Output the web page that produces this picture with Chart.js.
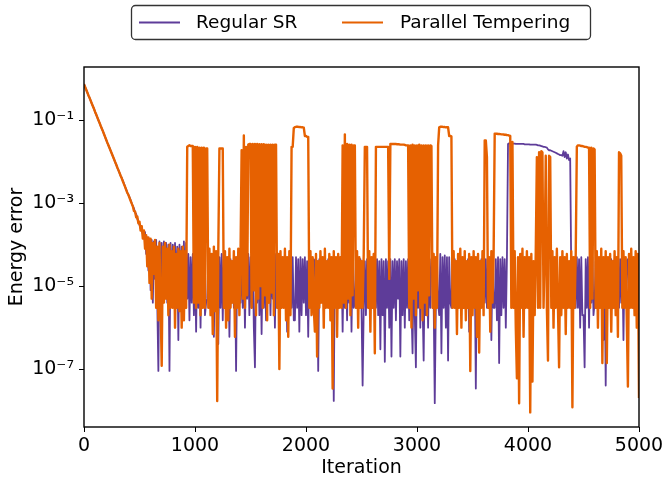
<!DOCTYPE html>
<html>
<head>
<meta charset="utf-8">
<script src="https://cdn.jsdelivr.net/npm/chart.js@4/dist/chart.umd.min.js"></script>
<style>
  html, body { margin: 0; padding: 0; background: #fff; }
  #wrap { width: 664px; height: 480px; }
</style>
</head>
<body>
<div id="wrap"><canvas id="errChart" width="664" height="480"></canvas></div>
<script>
// one sample every 10 iterations, 0..5000 (one row = 100 iterations)
const iterations = Array.from({ length: 501 }, (_, i) => i * 10);

const regularSR = [
  0.75, 0.64, 0.55, 0.47, 0.40, 0.35, 0.30, 0.255, 0.22, 0.19,
  0.16, 0.138, 0.118, 0.101, 0.087, 0.074, 0.064, 0.055, 0.047, 0.040,
  0.034, 0.029, 0.025, 0.0216, 0.0185, 0.0159, 0.0136, 0.0117, 0.0100, 0.0086,
  0.0073, 0.0063, 0.0054, 0.0046, 0.0041, 0.0035, 0.0030, 0.0025, 0.0022, 0.0018,
  0.0016, 0.0014, 0.0012, 0.0010, 8.5e-4, 7.5e-4, 6e-4, 5.5e-4, 4.2e-4, 3.6e-4,
  3e-4, 2.5e-4, 2.4e-4, 1.8e-4, 1.6e-4, 2e-4, 6e-5, 1.5e-4, 2.4e-5, 1.4e-4,
  8e-6, 1.3e-4, 4e-6, 1.2e-4, 1.5e-5, 1.3e-4, 4e-6, 9e-8, 1.2e-4, 5e-6,
  1.1e-4, 4e-6, 1.2e-4, 8e-6, 1.1e-4, 4e-6, 1e-4, 9e-8, 1.1e-4, 4e-6,
  1e-4, 4e-6, 1.1e-4, 6e-6, 9e-5, 5e-7, 1e-4, 4e-6, 9e-5, 6e-6,
  1.2e-4, 4e-6, 1.1e-4, 5e-6, 6e-5, 1.5e-6, 5e-5, 4e-6, 6e-5, 2e-6,
  5e-5, 8e-7, 6e-5, 3e-6, 5e-5, 1e-6, 7e-5, 5e-6, 6e-5, 2e-6,
  4e-6, 5e-6, 4e-5, 4e-6, 4.5e-5, 3e-6, 4e-5, 6e-7, 4.5e-5, 4e-6,
  4e-5, 4e-7, 5e-5, 3e-6, 6e-5, 1.5e-6, 4.5e-5, 4e-6, 4e-5, 4e-6,
  4e-5, 6e-7, 4.5e-5, 4e-6, 4e-5, 3e-6, 4.5e-5, 9e-8, 4e-5, 4e-6,
  4.5e-5, 4e-6, 6e-5, 3e-6, 5e-5, 1e-6, 4.5e-5, 5e-6, 6e-5, 2e-6,
  5e-5, 3e-6, 6e-5, 1e-6, 1.1e-7, 5e-5, 4e-6, 6e-5, 2e-6, 5e-5,
  7e-7, 6e-5, 3e-6, 5e-5, 1.5e-6, 6e-5, 4e-6, 5e-5, 2e-6, 6e-5,
  5e-6, 5e-5, 1e-6, 6e-5, 4.5e-5, 4e-6, 4e-5, 3.5e-6, 4.5e-5, 4e-6,
  4e-5, 4e-6, 4.5e-5, 8e-7, 4e-5, 4e-6, 4.5e-5, 3e-6, 5e-5, 1.5e-6,
  1.5e-6, 5e-5, 3e-6, 4.5e-5, 8e-7, 5e-5, 2e-6, 4.5e-5, 4e-6, 5e-5,
  2e-6, 4e-5, 6e-7, 4.5e-5, 4e-6, 4e-5, 3.5e-6, 4.5e-5, 4e-5, 4e-6,
  4e-5, 9e-8, 4.5e-5, 4e-6, 4e-5, 5e-6, 4.5e-5, 3e-6, 4e-5, 4e-6,
  4.5e-5, 4e-6, 4e-5, 4e-6, 4.5e-5, 1.7e-8, 4e-5, 4e-6, 4.5e-5, 4e-6,
  4e-5, 4e-6, 4.5e-5, 8e-7, 5e-5, 3e-6, 6e-5, 1.5e-6, 5e-5, 4e-6,
  6e-5, 8e-7, 5e-5, 3e-6, 4e-6, 4.5e-5, 4e-6, 4e-5, 5e-6, 4.5e-5,
  3e-6, 4e-8, 3e-6, 4e-5, 2e-6, 4.5e-5, 4e-5, 3e-6, 4.5e-5, 4e-6,
  4.5e-5, 3e-6, 5e-5, 3e-6, 4.5e-5, 2e-6, 4e-5, 3e-7, 4.5e-5, 2e-6,
  4e-5, 1.5e-7, 4.5e-5, 3e-6, 4e-5, 1e-6, 4.5e-5, 2e-7, 4e-5, 3e-6,
  4.5e-5, 1.5e-6, 4e-5, 5e-6, 4.5e-5, 2e-7, 4e-5, 2e-6, 4.5e-5, 1e-6,
  4e-5, 3e-6, 4.5e-5, 1.5e-6, 5e-5, 3e-6, 2.4e-7, 5e-5, 2e-6, 1.1e-7,
  4.5e-5, 3e-6, 5e-5, 1e-6, 4.5e-5, 4e-6, 1.6e-7, 5e-5, 2e-6, 4.5e-5,
  1e-6, 5e-5, 3e-6, 4.5e-5, 4e-5, 4e-6, 1.5e-8, 4e-6, 4.5e-5, 4e-6,
  2e-6, 6e-5, 2.4e-7, 5e-5, 3e-6, 5.5e-5, 1e-6, 5e-5, 1.6e-7, 5e-5,
  4e-6, 3e-6, 4e-5, 4e-6, 4.5e-5, 3e-6, 4e-5, 4e-6, 4.5e-5, 4e-6,
  4e-5, 4e-6, 4.5e-5, 3e-6, 4e-5, 4e-6, 4.5e-5, 8e-7, 4e-5, 4e-6,
  4.5e-5, 4e-6, 4e-5, 3.4e-8, 4.5e-5, 4e-6, 4e-5, 3e-6, 4.5e-5, 4e-6,
  4e-5, 4e-6, 4.5e-5, 3e-6, 4e-5, 4e-6, 4.5e-5, 5e-7, 4e-5, 3e-6,
  3e-6, 4.5e-5, 1.5e-6, 5e-5, 1.4e-7, 4.5e-5, 2e-6, 5e-5, 3e-6, 4.5e-5,
  1e-6, 4.5e-5, 2.7e-2, 2.8e-2, 2.8e-2, 2.8e-2, 2.75e-2, 2.75e-2, 2.75e-2, 2.7e-2,
  2.7e-2, 2.7e-2, 2.7e-2, 2.7e-2, 2.7e-2, 2.7e-2, 2.7e-2, 2.65e-2, 2.65e-2, 2.65e-2,
  2.65e-2, 2.65e-2, 2.6e-2, 2.6e-2, 2.6e-2, 2.6e-2, 2.6e-2, 2.6e-2, 2.55e-2, 2.5e-2,
  2.5e-2, 2.45e-2, 2.4e-2, 2.35e-2, 2.3e-2, 2.3e-2, 2.25e-2, 2.2e-2, 2e-2, 1.9e-2,
  1.9e-2, 1.85e-2, 1.8e-2, 1.75e-2, 1.7e-2, 1.65e-2, 1.6e-2, 1.55e-2, 1.5e-2, 1.45e-2,
  1.45e-2, 1.4e-2, 1.8e-2, 1.3e-2, 1.7e-2, 1.2e-2, 1.5e-2, 1.1e-2, 1.2e-2, 2e-5,
  4e-5, 4e-6, 4.5e-5, 3e-6, 5e-5, 3e-6, 4.5e-5, 1e-6, 5e-5, 2e-6,
  2e-6, 1.1e-7, 4.5e-5, 3e-6, 5e-5, 1e-6, 4.5e-5, 4e-6, 5e-5, 2e-6,
  4e-6, 4e-5, 4e-6, 4.5e-5, 3e-6, 4e-5, 4e-6, 4.5e-5, 5e-7, 4e-5,
  4e-8, 4.5e-5, 4e-6, 4e-5, 3e-6, 4.5e-5, 4e-6, 4e-5, 3e-6, 4.5e-5,
  4e-6, 4e-5, 3e-6, 4.5e-5, 4e-6, 4e-5, 5e-7, 4.5e-5, 4e-6, 4e-5,
  4.5e-5, 3e-6, 4e-5, 4e-6, 4.5e-5, 3e-6, 4e-5, 4e-6, 4.5e-5, 3e-6,
  4e-5
];

const parallelTempering = [
  0.75, 0.64, 0.55, 0.47, 0.40, 0.35, 0.30, 0.255, 0.22, 0.19,
  0.16, 0.138, 0.118, 0.101, 0.087, 0.074, 0.064, 0.055, 0.047, 0.040,
  0.034, 0.029, 0.025, 0.0216, 0.0185, 0.0159, 0.0136, 0.0117, 0.0100, 0.0086,
  0.0073, 0.0063, 0.0054, 0.0046, 0.0040, 0.0034, 0.0029, 0.0025, 0.0021, 0.0018,
  0.0016, 0.00135, 0.00115, 9.8e-4, 8.5e-4, 6.5e-4, 6.3e-4, 4.6e-4, 4.8e-4, 3.3e-4,
  3.6e-4, 2.2e-4, 2.8e-4, 1.4e-4, 2.2e-4, 8e-5, 1.7e-4, 3e-5, 1.5e-4, 1.2e-5,
  1.4e-4, 5e-6, 1.1e-4, 2e-5, 1.3e-4, 3e-6, 9e-5, 1.5e-6, 1.1e-4, 4e-6,
  1.2e-7, 9e-5, 4e-6, 1.1e-4, 5e-6, 8e-5, 2e-6, 1e-4, 3e-6, 7e-5,
  3e-6, 9e-5, 1e-6, 6e-5, 3e-6, 8e-5, 2.5e-6, 7e-5, 1e-6, 9e-5,
  1.5e-6, 7e-5, 3e-6, 2.3e-2, 2.4e-2, 2.5e-2, 2.4e-2, 2.4e-2, 2.4e-2, 4e-6,
  2.3e-2, 3e-6, 2.3e-2, 4e-6, 2.2e-2, 2e-6, 2.2e-2, 3e-6, 2.2e-2, 3e-6,
  2.1e-2, 2.1e-2, 3e-6, 8e-5, 2e-6, 6e-5, 7e-7, 9e-5, 2.5e-6, 7e-5,
  1.7e-8, 8e-5, 2.1e-2, 2.1e-2, 2.1e-2, 2.1e-2, 3e-6, 7e-5, 1e-6, 5e-5,
  1.5e-6, 8e-5, 3e-6, 4e-5, 4e-6, 7e-5, 6e-7, 5e-5, 3e-6, 8e-5,
  2e-6, 6e-5, 1.9e-2, 5e-6, 4.3e-2, 3e-6, 2.3e-2, 6e-6, 2.6e-2, 2.7e-2,
  2.7e-2, 3e-6, 2.7e-2, 8e-6, 2.7e-2, 2e-6, 2.7e-2, 5e-6, 2.65e-2, 1e-5,
  2.65e-2, 3e-6, 2.65e-2, 6e-6, 2.6e-2, 1.5e-6, 2.6e-2, 4e-6, 2.6e-2, 7e-6,
  2.6e-2, 2e-6, 2.6e-2, 2.6e-2, 3e-6, 6e-5, 1e-7, 7e-5, 3e-6, 5e-5,
  3e-6, 8e-5, 1.5e-6, 5e-5, 6e-7, 7e-5, 2e-6, 2.3e-2, 2.3e-2, 6.5e-2,
  6.9e-2, 7e-2, 7e-2, 7e-2, 6.9e-2, 6.9e-2, 6.8e-2, 6.8e-2, 6.7e-2, 4.2e-2,
  4.2e-2, 4e-2, 4e-2, 3e-6, 7e-5, 2e-6, 5e-5, 3e-6, 8e-7, 6e-5,
  2e-7, 4e-5, 3e-6, 7e-5, 4e-6, 5e-5, 1e-6, 8e-5, 3e-6, 4e-5,
  3e-6, 6e-5, 1.5e-6, 5e-5, 3.4e-8, 7e-5, 3e-6, 5e-5, 6e-7, 6e-5,
  3e-6, 5e-5, 3e-6, 2.5e-2, 4e-6, 4.6e-2, 3e-6, 2.7e-2, 5e-6, 2.6e-2,
  2e-6, 2.6e-2, 6e-6, 2.5e-2, 2.5e-2, 3e-6, 7e-5, 1e-6, 5e-5, 3e-6,
  4e-5, 3e-6, 6e-5, 2.3e-2, 2.3e-2, 2.3e-2, 3e-6, 7e-5, 8e-7, 5e-5,
  3e-6, 6e-5, 2.4e-7, 2.3e-2, 2.3e-2, 2.3e-2, 2.3e-2, 2.3e-2, 2.3e-2, 2.3e-2,
  2.3e-2, 2.3e-2, 2.3e-2, 2.3e-2, 2.3e-2, 1.5e-5, 2.7e-2, 2.7e-2, 2.7e-2, 2.7e-2,
  2.7e-2, 2.7e-2, 2.65e-2, 2.65e-2, 2.65e-2, 2.6e-2, 2.6e-2, 2.6e-2, 2.6e-2, 2.55e-2,
  2.5e-2, 2.5e-2, 2.5e-2, 3e-6, 2.5e-2, 1e-6, 2.6e-2, 5e-6, 2.5e-2, 2e-6,
  2.5e-2, 8e-6, 2.6e-2, 3e-6, 2.5e-2, 1.5e-6, 2.5e-2, 4e-6, 2.5e-2, 2e-6,
  2.5e-2, 6e-6, 2.5e-2, 2.4e-2, 3e-6, 6e-5, 1e-6, 5e-5, 3e-6, 2.5e-2,
  6.8e-2, 7e-2, 7e-2, 7e-2, 6.9e-2, 6.9e-2, 6.8e-2, 6.8e-2, 6.8e-2, 4.2e-2,
  4.2e-2, 4.1e-2, 3e-6, 7e-5, 3e-6, 4e-5, 7e-7, 6e-5, 3e-6, 8e-5,
  1e-6, 5e-5, 3e-6, 7e-5, 1.5e-6, 4e-5, 3e-6, 6e-5, 9e-8, 5e-5,
  2e-6, 7e-5, 3e-6, 5e-5, 6e-7, 6e-5, 2.5e-7, 4e-5, 3e-6, 7e-5,
  2e-6, 3.3e-2, 3.3e-2, 1.3e-2, 3e-6, 5e-5, 8e-7, 7e-5, 4e-6, 5e-5,
  4.8e-2, 4.8e-2, 4.75e-2, 4.7e-2, 4.7e-2, 4.65e-2, 4.6e-2, 4.6e-2, 4.55e-2, 4.5e-2,
  4.5e-2, 4.4e-2, 4.4e-2, 4.3e-2, 4.2e-2, 3e-6, 3e-2, 3e-6, 7e-5, 1e-6,
  6e-8, 5e-5, 1.5e-8, 6e-5, 3e-6, 8e-5, 6e-7, 5e-5, 3e-6, 7e-5,
  3e-6, 5e-5, 9e-9, 6e-5, 5e-8, 4e-5, 2e-6, 7e-5, 1.3e-2, 3e-6,
  1.7e-2, 3e-6, 1.8e-2, 1.7e-2, 3e-6, 6e-5, 1.4e-2, 3e-6, 1.6e-7, 1.4e-2,
  1.3e-2, 3e-6, 7e-5, 1e-6, 5e-5, 3e-6, 8e-5, 3e-6, 1.1e-7, 5e-5,
  2e-6, 7e-5, 3e-6, 5e-5, 7e-7, 6e-5, 3e-6, 4e-5, 3e-6, 7e-5,
  1.2e-8, 5e-5, 3e-6, 6e-5, 2.3e-2, 2.5e-2, 2.5e-2, 2.45e-2, 2.4e-2, 2.4e-2,
  2.35e-2, 2.3e-2, 2.3e-2, 2.25e-2, 2.2e-2, 2.2e-2, 3e-6, 2.2e-2, 5e-6, 2.1e-2,
  2e-2, 3e-6, 7e-5, 1e-6, 5e-5, 3e-6, 8e-5, 1.4e-7, 5e-5, 3e-6,
  7e-5, 1.4e-7, 5e-5, 3e-6, 6e-5, 8e-7, 4e-5, 3e-6, 7e-5, 2e-6,
  5e-5, 6e-7, 1.7e-2, 1.6e-2, 1.4e-2, 3e-6, 7e-5, 3e-6, 5e-5, 1.5e-6,
  3.8e-8, 6e-5, 3e-6, 8e-5, 3e-6, 5e-5, 2e-6, 7e-5, 1e-6, 6e-5,
  2e-8
];

const seriesNames = ["Regular SR", "Parallel Tempering"];
const seriesColors = ["#5e3c99", "#e66101"];
const xTicks = [0, 1000, 2000, 3000, 4000, 5000];
const yTicks = [1e-7, 1e-5, 1e-3, 1e-1];
const yTickLabels = ["10\u207B\u2077", "10\u207B\u2075", "10\u207B\u00B3", "10\u207B\u00B9"];

const FONT = "DejaVu Sans";

function toPoints(values) {
  return values.map((v, i) => ({ x: iterations[i], y: v }));
}

// frame around the axes + boxed legend above the plot
const framePlugin = {
  id: "framePlugin",
  afterDraw(chart) {
    const c = chart.ctx;
    const a = chart.chartArea;
    c.save();
    c.strokeStyle = "#000";
    c.lineWidth = 1.4;
    c.strokeRect(a.left, a.top, a.right - a.left, a.bottom - a.top);

    c.beginPath();
    c.roundRect(131.5, 5.5, 459, 34, 4);
    c.fillStyle = "#fff";
    c.fill();
    c.strokeStyle = "#333";
    c.lineWidth = 1.3;
    c.stroke();

    const items = [
      { x0: 139, x1: 180, tx: 196 },
      { x0: 342, x1: 383, tx: 400 }
    ];
    c.font = "18.5px '" + FONT + "'";
    c.textBaseline = "middle";
    c.textAlign = "left";
    items.forEach((it, k) => {
      c.beginPath();
      c.moveTo(it.x0, 22.5);
      c.lineTo(it.x1, 22.5);
      c.strokeStyle = seriesColors[k];
      c.lineWidth = 2;
      c.stroke();
      c.fillStyle = "#000";
      c.fillText(seriesNames[k], it.tx, 23);
    });
    c.restore();
  }
};

const ctx = document.getElementById("errChart").getContext("2d");
const errChart = new Chart(ctx, {
  type: "line",
  data: {
    datasets: [
      {
        label: seriesNames[0],
        data: toPoints(regularSR),
        borderColor: seriesColors[0],
        borderWidth: 1.8,
        borderJoinStyle: "round",
        pointRadius: 0,
        tension: 0,
        order: 1
      },
      {
        label: seriesNames[1],
        data: toPoints(parallelTempering),
        borderColor: seriesColors[1],
        borderWidth: 2.4,
        borderJoinStyle: "round",
        pointRadius: 0,
        tension: 0,
        order: 0
      }
    ]
  },
  options: {
    responsive: false,
    animation: false,
    devicePixelRatio: 1,
    layout: { padding: { top: 67, right: 25, left: 0, bottom: 0 } },
    plugins: {
      legend: { display: false },
      tooltip: { enabled: false }
    },
    scales: {
      x: {
        type: "linear",
        min: 0,
        max: 5000,
        afterBuildTicks: (s) => { s.ticks = xTicks.map(v => ({ value: v })); },
        afterFit: (s) => { s.height = 53; s.paddingRight = 20; s.paddingLeft = 5; },
        grid: { drawOnChartArea: false, drawTicks: true, tickLength: 5, color: "#000", lineWidth: 1 },
        border: { display: false },
        ticks: {
          color: "#000",
          font: { family: FONT, size: 19 },
          padding: 3,
          maxRotation: 0,
          callback: (v) => String(v)
        },
        title: {
          display: true,
          text: "Iteration",
          color: "#000",
          font: { family: FONT, size: 19 },
          padding: { top: 0, bottom: 1 }
        }
      },
      y: {
        type: "logarithmic",
        min: 4e-9,
        max: 1.94,
        afterBuildTicks: (s) => { s.ticks = yTicks.map(v => ({ value: v })); },
        afterFit: (s) => { s.width = 84; },
        grid: { drawOnChartArea: false, drawTicks: true, tickLength: 5, color: "#000", lineWidth: 1 },
        border: { display: false },
        ticks: {
          color: "#000",
          font: { family: FONT, size: 19 },
          padding: 5,
          autoSkip: false,
          callback: (v, i) => yTickLabels[i]
        },
        title: {
          display: true,
          text: "Energy error",
          color: "#000",
          font: { family: FONT, size: 19 },
          padding: { top: 6, bottom: 0 }
        }
      }
    }
  },
  plugins: [framePlugin]
});
</script>
</body>
</html>
